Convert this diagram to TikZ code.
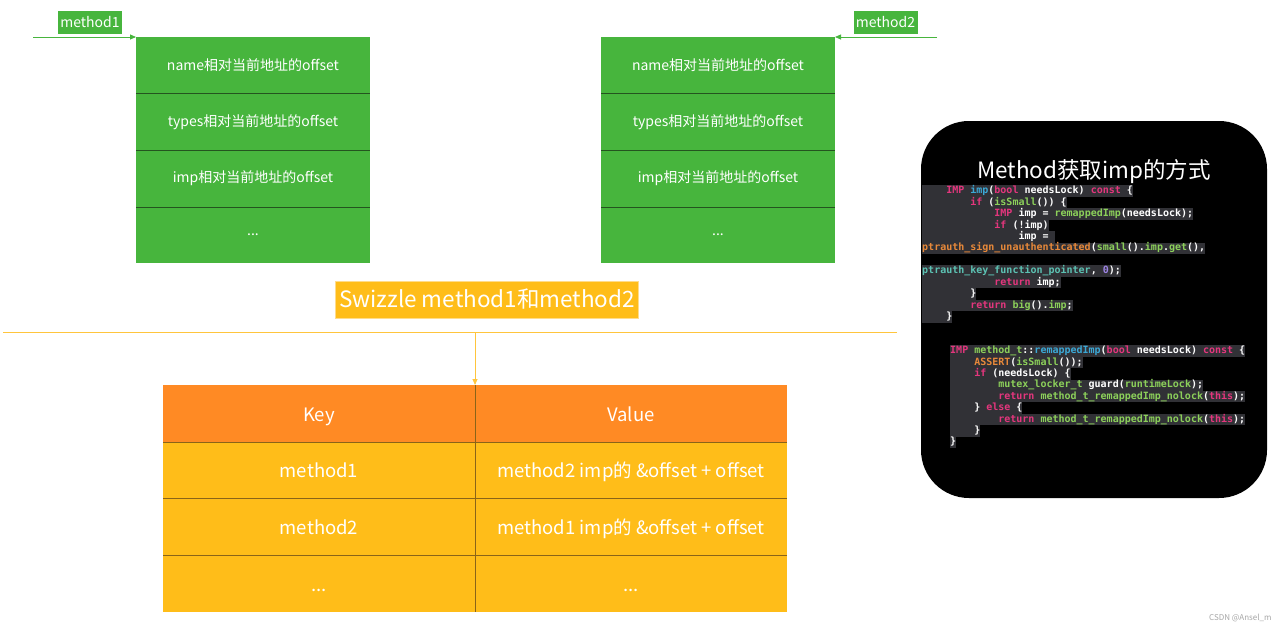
\documentclass[tikz,border=0pt]{standalone}
\usepackage{fontspec}
\setmainfont{Noto Sans CJK SC}
\setmonofont{DejaVu Sans Mono}
\usepackage{tikz}
\usetikzlibrary{arrows.meta,positioning}
\definecolor{slotgreen}{HTML}{47B53D}
\definecolor{sepgreen}{HTML}{24541F}
\definecolor{keyorange}{HTML}{FF8A24}
\definecolor{rowyellow}{HTML}{FFBD19}
\definecolor{gridbrown}{HTML}{8A6418}
\definecolor{lineyellow}{HTML}{FFC53D}
\definecolor{codebg}{HTML}{313136}
\definecolor{kwpink}{HTML}{E4367D}
\definecolor{fnblue}{HTML}{3BA8D6}
\definecolor{fngreen}{HTML}{8CD05A}
\definecolor{fnorange}{HTML}{E8893A}
\definecolor{fnteal}{HTML}{5CC2B3}
\definecolor{numpurple}{HTML}{9E84E5}
\newcommand\kwd[1]{\textcolor{kwpink}{#1}}
\newcommand\fnb[1]{\textcolor{fnblue}{#1}}
\newcommand\fng[1]{\textcolor{fngreen}{#1}}
\newcommand\fno[1]{\textcolor{fnorange}{#1}}
\newcommand\fnt[1]{\textcolor{fnteal}{#1}}
\newcommand\numb[1]{\textcolor{numpurple}{#1}}
\newcommand\ind[1]{\hspace*{#1\dimexpr 6.02pt\relax}}
\tikzset{
  slot/.style={fill=slotgreen, text=white, minimum width=234pt, minimum height=56.6pt, outer sep=0pt, font=\fontsize{14}{16}\selectfont},
  tag/.style={fill=slotgreen, text=white, inner sep=2pt, minimum width=64pt, minimum height=23pt, font=\fontsize{14}{16}\selectfont},
  headcell/.style={fill=keyorange, text=white, minimum width=312pt, minimum height=57pt, outer sep=0pt, text height=15pt, text depth=0pt, font=\fontsize{18.5}{22}\selectfont},
  rowcell/.style={fill=rowyellow, text=white, minimum width=312pt, minimum height=56.6pt, outer sep=0pt, text height=15pt, text depth=0pt, font=\fontsize{18.5}{22}\selectfont},
  code/.style={anchor=west, fill=codebg, text=white, inner xsep=0pt, inner ysep=0.5pt, text height=7.8pt, text depth=2.6pt, font=\ttfamily\bfseries\fontsize{10}{11}\selectfont},
  sep/.style={sepgreen, line width=0.6pt},
  grid/.style={gridbrown, line width=0.6pt},
  flow/.style={-{Triangle[length=6pt, width=5pt]}, line width=0.8pt}
}
\begin{document}
\begin{tikzpicture}[x=1pt, y=-1pt]
\useasboundingbox[fill=white] (0,0) rectangle (1280,627);
% method1 slots
\node[slot] (m1name) at (253,65.3) {name相对当前地址的offset};
\node[slot, below=0pt of m1name] (m1types) {types相对当前地址的offset};
\node[slot, below=0pt of m1types] (m1imp) {imp相对当前地址的offset};
\node[slot, below=0pt of m1imp] (m1more) {...};
\draw[sep] (m1name.south west) -- (m1name.south east);
\draw[sep] (m1types.south west) -- (m1types.south east);
\draw[sep] (m1imp.south west) -- (m1imp.south east);
% method2 slots
\node[slot] (m2name) at (718,65.3) {name相对当前地址的offset};
\node[slot, below=0pt of m2name] (m2types) {types相对当前地址的offset};
\node[slot, below=0pt of m2types] (m2imp) {imp相对当前地址的offset};
\node[slot, below=0pt of m2imp] (m2more) {...};
\draw[sep] (m2name.south west) -- (m2name.south east);
\draw[sep] (m2types.south west) -- (m2types.south east);
\draw[sep] (m2imp.south west) -- (m2imp.south east);
% entry pointers
\node[tag] (m1tag) at (90,22.5) {method1};
\node[tag] (m2tag) at (885.5,22.5) {method2};
\coordinate (m1in) at (33,37);
\coordinate (m2in) at (937,37);
\draw[flow, slotgreen] (m1in) -- (m1name.north west);
\draw[flow, slotgreen] (m2in) -- (m2name.north east);
% swizzle
\node[fill=rowyellow, draw=lineyellow!60, text=white, minimum width=302pt, minimum height=37pt, font=\fontsize{22.5}{26}\selectfont] (swizzle) at (487,299.5) {Swizzle method1和method2};
\coordinate (lineL) at (3,332);
\coordinate (lineR) at (897,332);
\coordinate (drop) at (475,332);
\draw[lineyellow, line width=0.8pt] (lineL) -- (lineR);
% table
\node[headcell] (key) at (319,413.5) {Key};
\node[headcell, right=0pt of key] (value) {Value};
\node[rowcell, below=0pt of key] (k1) {method1};
\node[rowcell, below=0pt of value] (v1) {method2 imp的 \&offset + offset};
\node[rowcell, below=0pt of k1] (k2) {method2};
\node[rowcell, below=0pt of v1] (v2) {method1 imp的 \&offset + offset};
\node[rowcell, below=0pt of k2] (k3) {...};
\node[rowcell, below=0pt of v2] (v3) {...};
\draw[grid] (key.south west) -- (value.south east);
\draw[grid] (k1.south west) -- (v1.south east);
\draw[grid] (k2.south west) -- (v2.south east);
\draw[grid] (key.north east) -- (k3.south east);
\draw[flow, lineyellow] (drop) -- (key.north east);
% code panel
\node[fill=black, rounded corners=48pt, minimum width=346pt, minimum height=377pt] (panel) at (1094,309.5) {};
\node[text=white, font=\fontsize{22.5}{26}\selectfont] (title) at (1094,171.5) {Method获取imp的方式};
\node[code] (c1) at (922,191.0) {\ind{4}\kwd{IMP} \fnb{imp}(\kwd{bool} needsLock) \kwd{const} \{ };
\node[code] (c2) at (922,202.5) {\ind{8}\kwd{if} (\fng{isSmall}()) \{ };
\node[code] (c3) at (922,213.9) {\ind{12}\kwd{IMP} imp = \fng{remappedImp}(needsLock);};
\node[code] (c4) at (922,225.4) {\ind{12}\kwd{if} (!imp)};
\node[code] (c5) at (922,236.8) {\ind{16}imp =\ind{1}};
\node[code] (c6) at (922,248.2) {\fno{ptrauth\_sign\_unauthenticated}(\fng{small}().\fng{imp}.\fng{get}(),};
\node[code] (c8) at (922,271.1) {\fnt{ptrauth\_key\_function\_pointer}, \numb{0});};
\node[code] (c9) at (922,282.6) {\ind{12}\kwd{return} imp;};
\node[code] (c10) at (922,294.0) {\ind{8}\}};
\node[code] (c11) at (922,305.5) {\ind{8}\kwd{return} \fng{big}().\fng{imp};};
\node[code] (c12) at (922,316.9) {\ind{4}\}};
\node[code] (d1) at (950,351.0) {\kwd{IMP} \fng{method\_t}::\fnb{remappedImp}(\kwd{bool} needsLock) \kwd{const} \{};
\node[code] (d2) at (950,362.4) {\ind{4}\fno{ASSERT}(\fng{isSmall}());};
\node[code] (d3) at (950,373.8) {\ind{4}\kwd{if} (needsLock) \{};
\node[code] (d4) at (950,385.2) {\ind{8}\fng{mutex\_locker\_t} guard(\fng{runtimeLock});};
\node[code] (d5) at (950,396.6) {\ind{8}\kwd{return} \fng{method\_t\_remappedImp\_nolock}(\kwd{this});};
\node[code] (d6) at (950,408.0) {\ind{4}\} \kwd{else} \{};
\node[code] (d7) at (950,419.4) {\ind{8}\kwd{return} \fng{method\_t\_remappedImp\_nolock}(\kwd{this});};
\node[code] (d8) at (950,430.8) {\ind{4}\}};
\node[code] (d9) at (950,442.2) {\}};
% watermark
\node[text=black!35, font=\fontsize{8}{9}\selectfont, anchor=east] (mark) at (1275,618) {CSDN @Ansel\_m};
\end{tikzpicture}
\end{document}
